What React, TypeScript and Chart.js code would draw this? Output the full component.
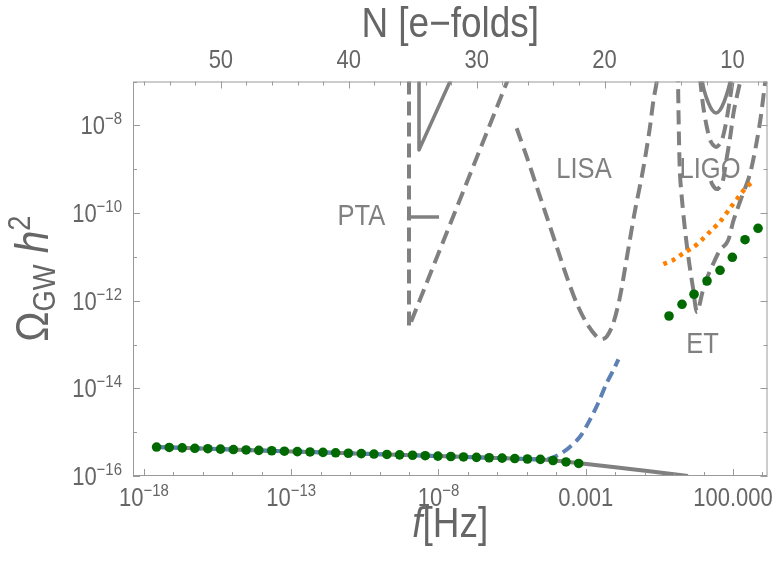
import React, { useEffect, useRef } from "react";
import { Chart, registerables } from "chart.js";

Chart.register(...registerables);

const FONT = '"Liberation Sans", Arial, Helvetica, sans-serif';
const SQUEEZE = 0.88;
const GRAY = "#808080";
const FRAME = "#9a9a9a";
const TEXT = "#666666";
const BLUE = "#5E81B5";
const ORANGE = "#FF8000";
const GREEN = "#006a00";

// ---- axis ranges (log10 f [Hz], log10 Omega h^2, e-folds on top) ----
const logFMin = -18.37;
const logFMax = 3.17;
const logOmegaMin = -16;
const logOmegaMax = -7;
const eFoldsLeft = 56.87;
const eFoldsRight = 7.26;

// ---- ticks ----
const fMajorExps = [-18, -13, -8, -3, 2];
const fMajorLabels = ["10^−18", "10^−13", "10^−8", "0.001", "100.000"];
const fMinorExps = [-17, -16, -15, -14, -12, -11, -10, -9, -7, -6, -5, -4, -2, -1, 0, 1, 3];
const omegaMajorExps = [-16, -14, -12, -10, -8];
const omegaMajorLabels = ["10^−16", "10^−14", "10^−12", "10^−10", "10^−8"];
const omegaMinorExps = [-15, -13, -11, -9, -7];
const nMajor = [50, 40, 30, 20, 10];
const nMinor = [56, 54, 52, 48, 46, 44, 42, 38, 36, 34, 32, 28, 26, 24, 22, 18, 16, 14, 12, 8];

// ---- data (log10 f, log10 Omega h^2) ----
// model spectrum (gray solid)
const specLogF = [-17.57, -10.0, -5.5, -4.4, -3.5, -2.0, 0.47];
const specLogO = [-15.34, -15.503, -15.6, -15.63, -15.685, -15.8, -16.0];

// blue dashed spectrum
const blueLogF = [-17.57, -10.0, -5.2, -4.55, -4.21, -3.87, -3.53, -3.19, -2.86, -2.58, -2.29, -2.06, -1.89];
const blueLogO = [-15.34, -15.503, -15.607, -15.62, -15.6, -15.5, -15.33, -15.1, -14.72, -14.34, -13.88, -13.58, -13.34];

// green dots, low frequency
const dotsLowLogF = [-17.57, -17.14, -16.7, -16.27, -15.83, -15.4, -14.96, -14.53, -14.1, -13.66, -13.23, -12.79, -12.36, -11.92, -11.49, -11.06, -10.62, -10.19, -9.75, -9.32, -8.88, -8.45, -8.02, -7.58, -7.15, -6.71, -6.28, -5.84, -5.41, -4.98, -4.54, -4.11, -3.67, -3.24];
const dotsLowLogO = [-15.34, -15.349, -15.359, -15.368, -15.377, -15.387, -15.396, -15.406, -15.415, -15.424, -15.434, -15.443, -15.452, -15.462, -15.471, -15.481, -15.49, -15.499, -15.509, -15.518, -15.527, -15.537, -15.546, -15.555, -15.565, -15.574, -15.584, -15.593, -15.602, -15.612, -15.621, -15.646, -15.68, -15.714];

// green dots, high frequency
const dotsHighLogF = [-0.173, 0.268, 0.676, 1.117, 1.559, 1.976, 2.407, 2.849];
const dotsHighLogO = [-12.35, -12.083, -11.854, -11.551, -11.307, -11.01, -10.609, -10.349];

// orange dotted
const orangeLogF = [-0.367, -0.027, 0.312, 0.652, 0.937, 1.219, 1.559, 1.898, 2.238, 2.465, 2.689];
const orangeLogO = [-11.163, -11.072, -10.919, -10.782, -10.616, -10.426, -10.198, -9.892, -9.589, -9.399, -9.285];

// PTA
const ptaDashLogF = [-9.0, -9.0, -5.37];
const ptaDashLogO = [-6.5, -12.6, -6.5];
const ptaSolidLogF = [-8.66, -8.66, -7.27];
const ptaSolidLogO = [-6.5, -8.56, -6.5];
const ptaBarLogF = [-9.07, -7.98];
const ptaBarLogO = [-10.09, -10.09];

// LISA
const lisaLogF = [-5.345, -5.005, -4.665, -4.325, -3.986, -3.646, -3.307, -2.967, -2.628, -2.458, -2.289, -2.065, -1.837, -1.6, -1.345, -1.056, -0.835, -0.7, -0.591, -0.52];
const lisaLogO = [-8.067, -8.715, -9.399, -10.084, -10.768, -11.453, -12.06, -12.516, -12.822, -12.881, -12.822, -12.516, -11.909, -10.997, -10.006, -9.018, -8.106, -7.421, -7.011, -6.6];

// ET
const etLogF = [0.12, 0.132, 0.166, 0.2, 0.268, 0.37, 0.506, 0.642, 0.778, 0.981, 1.117, 1.355, 1.559, 1.762, 1.864, 2.0, 2.136, 2.306, 2.475, 2.611, 2.815, 2.951, 3.087, 3.15];
const etLogO = [-6.7, -7.011, -8.334, -9.133, -9.703, -10.387, -11.118, -11.711, -12.258, -11.756, -11.483, -11.118, -10.844, -10.707, -10.57, -10.205, -9.931, -9.612, -9.315, -9.018, -8.334, -7.764, -7.034, -6.75];

// LIGO
const ligoSolidLogF = [0.937, 1.015, 1.151, 1.287, 1.423, 1.559, 1.694, 1.83, 1.932];
const ligoSolidLogO = [-6.919, -7.193, -7.467, -7.65, -7.718, -7.65, -7.467, -7.193, -6.919];
const ligoDash1LogF = [0.879, 0.981, 1.117, 1.253, 1.423, 1.593, 1.728, 1.864, 2.0];
const ligoDash1LogO = [-6.919, -7.535, -8.06, -8.38, -8.494, -8.38, -8.06, -7.535, -6.919];
const ligoDash2LogF = [1.253, 1.287, 1.423, 1.559, 1.661, 1.762, 1.898, 2.034, 2.272];
const ligoDash2LogO = [-9.269, -9.338, -9.452, -9.406, -9.247, -8.836, -8.288, -7.65, -6.919];

// curve labels (text, log10 f, log10 Omega of centre)
const curveLabels = ["PTA", "LISA", "LIGO", "ET"];
const curveLabelLogF = [-10.615, -3.06, 1.219, 0.964];
const curveLabelLogO = [-10.045, -8.973, -8.973, -12.954];

type Run = { text: string; size: number; italic?: boolean; dy?: number };

function runWidth(ctx: CanvasRenderingContext2D, r: Run) {
  ctx.font = `${r.italic ? "italic " : ""}${r.size}px ${FONT}`;
  return ctx.measureText(r.text).width * SQUEEZE;
}

function drawRuns(ctx: CanvasRenderingContext2D, runs: Run[], x: number, y: number, align: "left" | "center" | "right") {
  const widths = runs.map((r) => runWidth(ctx, r));
  const total = widths.reduce((a, b) => a + b, 0);
  let cx = align === "center" ? x - total / 2 : align === "right" ? x - total : x;
  runs.forEach((r, i) => {
    ctx.save();
    ctx.font = `${r.italic ? "italic " : ""}${r.size}px ${FONT}`;
    ctx.textAlign = "left";
    ctx.textBaseline = "alphabetic";
    ctx.translate(cx, y + (r.dy || 0));
    ctx.scale(SQUEEZE, 1);
    ctx.fillText(r.text, 0, 0);
    ctx.restore();
    cx += widths[i];
  });
}

function tickRuns(label: string, size: number, supSize: number, raise: number): Run[] {
  const parts = label.split("^");
  const runs: Run[] = [{ text: parts[0], size }];
  if (parts[1]) runs.push({ text: parts[1], size: supSize, dy: -raise });
  return runs;
}

const framePlugin = {
  id: "framePlugin",
  afterDatasetsDraw(chart: any) {
    const { ctx, chartArea: a, scales } = chart;
    const xs = scales.x, ys = scales.y, ns = scales.x2;
    ctx.save();
    ctx.strokeStyle = FRAME;
    ctx.lineWidth = 1;
    ctx.strokeRect(a.left + 0.5, a.top + 0.5, a.right - a.left - 1, a.bottom - a.top - 1);
    const seg = (x1: number, y1: number, x2: number, y2: number) => {
      ctx.beginPath();
      ctx.moveTo(x1, y1);
      ctx.lineTo(x2, y2);
      ctx.stroke();
    };
    const MAJ = 7, MIN = 4;
    fMajorExps.forEach((e) => { const p = Math.round(xs.getPixelForValue(10 ** e)) + 0.5; seg(p, a.bottom, p, a.bottom - MAJ); });
    fMinorExps.forEach((e) => { const p = Math.round(xs.getPixelForValue(10 ** e)) + 0.5; seg(p, a.bottom, p, a.bottom - MIN); });
    nMajor.forEach((n) => { const p = Math.round(ns.getPixelForValue(n)) + 0.5; seg(p, a.top, p, a.top + MAJ); });
    nMinor.forEach((n) => { const p = Math.round(ns.getPixelForValue(n)) + 0.5; seg(p, a.top, p, a.top + MIN); });
    omegaMajorExps.forEach((e) => {
      const p = Math.round(ys.getPixelForValue(10 ** e)) + 0.5;
      seg(a.left, p, a.left + MAJ, p);
      seg(a.right, p, a.right - MAJ, p);
    });
    omegaMinorExps.forEach((e) => {
      const p = Math.round(ys.getPixelForValue(10 ** e)) + 0.5;
      seg(a.left, p, a.left + MIN, p);
      seg(a.right, p, a.right - MIN, p);
    });

    ctx.fillStyle = TEXT;
    // bottom tick labels
    fMajorExps.forEach((e, i) => {
      const p = xs.getPixelForValue(10 ** e);
      drawRuns(ctx, tickRuns(fMajorLabels[i], 25, 17, 10), p, a.bottom + 30, "center");
    });
    // left tick labels
    omegaMajorExps.forEach((e, i) => {
      const p = ys.getPixelForValue(10 ** e);
      drawRuns(ctx, tickRuns(omegaMajorLabels[i], 25, 17, 10), a.left - 11, p + 9, "right");
    });
    // top tick labels
    nMajor.forEach((n) => {
      const p = ns.getPixelForValue(n);
      drawRuns(ctx, [{ text: String(n), size: 25 }], p, a.top - 14, "center");
    });

    // axis titles
    const cx = (a.left + a.right) / 2;
    drawRuns(ctx, [{ text: "N [e−folds]", size: 42 }], cx, 37, "center");
    drawRuns(ctx, [{ text: "f", size: 42, italic: true }, { text: "[Hz]", size: 42 }], cx, a.bottom + 61, "center");
    ctx.save();
    ctx.translate(48, (a.top + a.bottom) / 2);
    ctx.rotate(-Math.PI / 2);
    drawRuns(
      ctx,
      [
        { text: "Ω", size: 46 },
        { text: "GW", size: 31, dy: 7 },
        { text: " ", size: 46 },
        { text: "h", size: 46, italic: true },
        { text: "2", size: 31, dy: -18 },
      ],
      0,
      0,
      "center"
    );
    ctx.restore();

    // curve labels
    ctx.fillStyle = GRAY;
    curveLabels.forEach((t, i) => {
      const px = xs.getPixelForValue(10 ** curveLabelLogF[i]);
      const py = ys.getPixelForValue(10 ** curveLabelLogO[i]);
      drawRuns(ctx, [{ text: t, size: 29 }], px, py + 10.5, "center");
    });
    ctx.restore();
  },
};

const pts = (lf: number[], lo: number[]) => lf.map((v, i) => ({ x: 10 ** v, y: 10 ** lo[i] }));

const line = (data: any[], color: string, width: number, dash: number[], tension = 0) => ({
  data,
  showLine: true,
  borderColor: color,
  backgroundColor: color,
  borderWidth: width,
  borderDash: dash,
  borderCapStyle: "butt",
  borderJoinStyle: "round",
  pointRadius: 0,
  pointHoverRadius: 0,
  fill: false,
  tension,
  clip: 0,
});

export default function App() {
  const ref = useRef<HTMLCanvasElement>(null);
  useEffect(() => {
    const canvas = ref.current!;
    const dash = [14, 7];
    const chart = new Chart(canvas, {
      type: "scatter",
      data: {
        datasets: [
          {
            data: [...pts(dotsLowLogF, dotsLowLogO), ...pts(dotsHighLogF, dotsHighLogO)],
            showLine: false,
            pointRadius: 4.8,
            pointBackgroundColor: GREEN,
            pointBorderColor: GREEN,
            pointBorderWidth: 0,
            clip: false,
          } as any,
          line(pts(orangeLogF, orangeLogO), ORANGE, 4.5, [4, 5], 0.3),
          line(pts(blueLogF, blueLogO), BLUE, 4, [11, 6], 0.3),
          line(pts(specLogF, specLogO), GRAY, 4, [], 0.2),
          line(pts(ptaSolidLogF, ptaSolidLogO), GRAY, 3.6, []),
          line(pts(ptaBarLogF, ptaBarLogO), GRAY, 3.6, []),
          line(pts(ptaDashLogF, ptaDashLogO), GRAY, 4, dash),
          line(pts(lisaLogF, lisaLogO), GRAY, 4, dash, 0.3),
          line(pts(etLogF, etLogO), GRAY, 4, dash, 0.3),
          line(pts(ligoSolidLogF, ligoSolidLogO), GRAY, 3.6, [], 0.35),
          line(pts(ligoDash1LogF, ligoDash1LogO), GRAY, 4, dash, 0.3),
          line(pts(ligoDash2LogF, ligoDash2LogO), GRAY, 4, dash, 0.3),
        ] as any,
      },
      options: {
        animation: false,
        responsive: false,
        devicePixelRatio: 1,
        events: [],
        layout: { padding: { left: 133, right: 5.5, top: 81.5, bottom: 89 } },
        plugins: { legend: { display: false }, tooltip: { enabled: false } },
        scales: {
          x: { type: "logarithmic", min: 10 ** logFMin, max: 10 ** logFMax, display: false },
          y: { type: "logarithmic", min: 10 ** logOmegaMin, max: 10 ** logOmegaMax, display: false },
          x2: { type: "linear", axis: "x", position: "top", min: eFoldsRight, max: eFoldsLeft, reverse: true, display: false },
        },
      } as any,
      plugins: [framePlugin],
    });
    return () => chart.destroy();
  }, []);
  return (
    <div style={{ position: "fixed", left: 0, top: 0, width: 773, height: 565, background: "#fff" }}>
      <canvas ref={ref} width={773} height={565} style={{ display: "block", width: 773, height: 565 }} />
    </div>
  );
}
